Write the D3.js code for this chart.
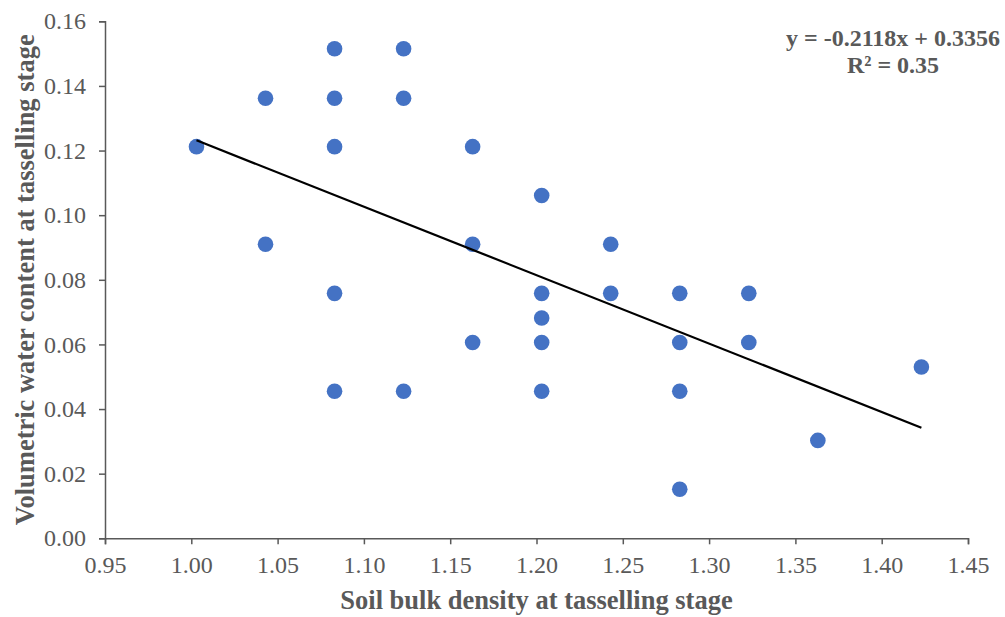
<!DOCTYPE html>
<html>
<head>
<meta charset="utf-8">
<script src="https://cdn.jsdelivr.net/npm/d3@7"></script>
<style>
html,body{margin:0;padding:0;background:#fff;}
svg{display:block;}
</style>
</head>
<body>
<svg id="chart" width="1005" height="617"></svg>
<script>
// Data
const bulkDensity = [1.003, 1.043, 1.043, 1.083, 1.083, 1.083, 1.083, 1.083, 1.123, 1.123, 1.123,
  1.163, 1.163, 1.163, 1.203, 1.203, 1.203, 1.203, 1.203, 1.243, 1.243,
  1.283, 1.283, 1.283, 1.283, 1.323, 1.323, 1.363, 1.423];
const waterContent = [0.1212, 0.1362, 0.0910, 0.1515, 0.1362, 0.1212, 0.0758, 0.0455, 0.1515, 0.1362, 0.0455,
  0.1212, 0.0910, 0.0606, 0.1061, 0.0758, 0.0682, 0.0606, 0.0455, 0.0910, 0.0758,
  0.0758, 0.0606, 0.0455, 0.0152, 0.0758, 0.0606, 0.0303, 0.0530];
const xTicks = [0.95, 1.00, 1.05, 1.10, 1.15, 1.20, 1.25, 1.30, 1.35, 1.40, 1.45];
const yTicks = [0.00, 0.02, 0.04, 0.06, 0.08, 0.10, 0.12, 0.14, 0.16];
const slope = -0.2118;
const intercept = 0.3356;
const equationLines = ["y = -0.2118x + 0.3356", "R² = 0.35"];
const xTitle = "Soil bulk density at tasselling stage";
const yTitle = "Volumetric water content at tasselling stage";

const svg = d3.select("#chart");
const mLeft = 105, mRight = 968, mTop = 21.3, mBottom = 538.3;
const textColor = "#595959";
const font = "'Liberation Serif','Times New Roman',serif";

const x = d3.scaleLinear().domain([0.95, 1.45]).range([mLeft, mRight]);
const y = d3.scaleLinear().domain([0, 0.16]).range([mBottom, mTop]);

// Axes
const xAxis = svg.append("g").attr("transform", `translate(0,${mBottom})`)
  .call(d3.axisBottom(x).tickValues(xTicks).tickFormat(d3.format(".2f")).tickSizeOuter(0).tickSize(6).tickPadding(12));
const yAxis = svg.append("g").attr("transform", `translate(${mLeft},0)`)
  .call(d3.axisLeft(y).tickValues(yTicks).tickFormat(d3.format(".2f")).tickSizeOuter(0).tickSize(6).tickPadding(13));

[xAxis, yAxis].forEach(g => {
  g.select(".domain").attr("stroke", "#595959").attr("stroke-width", 1.5);
  g.selectAll(".tick line").attr("stroke", "#595959").attr("stroke-width", 1.5);
  g.selectAll(".tick text").attr("fill", textColor).style("font-family", font).style("font-size", "24px");
});

// Points
svg.append("g").selectAll("circle")
  .data(bulkDensity.map((d, i) => [d, waterContent[i]]))
  .join("circle")
  .attr("cx", d => x(d[0]))
  .attr("cy", d => y(d[1]))
  .attr("r", 7.8)
  .attr("fill", "#4472C4");

// Trendline
const xMin = d3.min(bulkDensity), xMax = d3.max(bulkDensity);
svg.append("line")
  .attr("x1", x(xMin)).attr("y1", y(slope * xMin + intercept))
  .attr("x2", x(xMax)).attr("y2", y(slope * xMax + intercept))
  .attr("stroke", "#000").attr("stroke-width", 2.25);

// Equation
svg.append("g").selectAll("text")
  .data(equationLines)
  .join("text")
  .attr("x", 893)
  .attr("y", (d, i) => 46 + i * 27)
  .attr("text-anchor", "middle")
  .attr("fill", textColor)
  .style("font-family", font)
  .style("font-weight", "bold")
  .style("font-size", "24px")
  .text(d => d);

// Axis titles
svg.append("text")
  .attr("x", (mLeft + mRight) / 2).attr("y", 609)
  .attr("text-anchor", "middle")
  .attr("fill", textColor)
  .style("font-family", font).style("font-weight", "bold").style("font-size", "26.5px")
  .text(xTitle);

svg.append("text")
  .attr("transform", `translate(34,${(mTop + mBottom) / 2}) rotate(-90)`)
  .attr("text-anchor", "middle")
  .attr("fill", textColor)
  .style("font-family", font).style("font-weight", "bold").style("font-size", "26.5px")
  .text(yTitle);
</script>
</body>
</html>
